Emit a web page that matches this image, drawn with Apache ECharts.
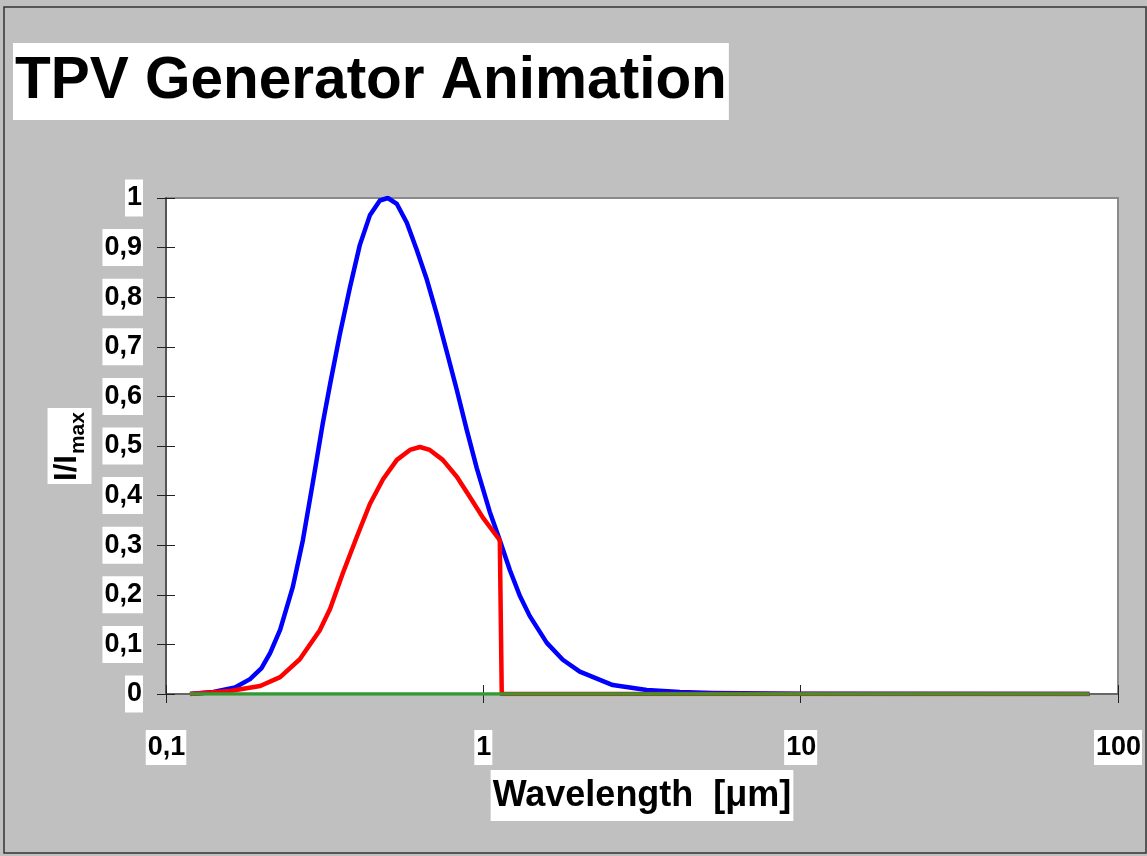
<!DOCTYPE html>
<html>
<head>
<meta charset="utf-8">
<script src="https://cdn.jsdelivr.net/npm/echarts@6/dist/echarts.min.js"></script>
<style>
  html, body { margin: 0; padding: 0; background: #c0c0c0; }
  #chart { width: 1147px; height: 856px; }
</style>
</head>
<body>
<div id="chart"></div>
<script>
// values (wavelength in µm, I/Imax)
const blueWl = [0.119, 0.141, 0.165, 0.184, 0.2, 0.213, 0.229, 0.251, 0.27, 0.29, 0.312, 0.329, 0.353, 0.38, 0.408, 0.439, 0.472, 0.5, 0.534, 0.574, 0.617, 0.664, 0.714, 0.767, 0.825, 0.887, 0.954, 1.048, 1.127, 1.212, 1.303, 1.401, 1.585, 1.78, 2.013, 2.558, 3.273, 4.16, 5.28, 10, 81.3]
const blueVal = [0, 0.004, 0.013, 0.03, 0.052, 0.083, 0.13, 0.216, 0.31, 0.425, 0.546, 0.625, 0.725, 0.82, 0.905, 0.965, 0.995, 1.0, 0.988, 0.95, 0.895, 0.835, 0.765, 0.69, 0.613, 0.532, 0.455, 0.367, 0.31, 0.25, 0.198, 0.157, 0.103, 0.069, 0.045, 0.018, 0.008, 0.004, 0.002, 0.0005, 0]

const redWl = [0.119, 0.159, 0.198, 0.229, 0.264, 0.305, 0.329, 0.361, 0.4, 0.439, 0.483, 0.534, 0.587, 0.631, 0.678, 0.745, 0.825, 0.907, 0.998, 1.127, 1.143, 81.3]
const redVal = [0, 0.006, 0.016, 0.034, 0.07, 0.128, 0.172, 0.244, 0.318, 0.383, 0.433, 0.472, 0.492, 0.498, 0.492, 0.472, 0.438, 0.397, 0.355, 0.31, 0, 0]

const greenWl = [0.119, 81.3]
const greenVal = [0, 0]

const FONT = '"Liberation Sans", Arial, sans-serif'
const comma = v => String(Number(Number(v).toPrecision(6))).replace('.', ',')
const pairs = (xs, ys) => xs.map((x, i) => [x, ys[i]])

const chart = echarts.init(document.getElementById('chart'))

const labelBox = {
  color: '#000',
  fontFamily: FONT,
  fontWeight: 'bold',
  fontSize: 27,
  lineHeight: 29,
  backgroundColor: '#fff',
  padding: [3, 1, 3, 2],
}

const option = {
  backgroundColor: '#c0c0c0',
  animation: false,
  title: {
    text: 'TPV Generator Animation',
    left: 13,
    top: 43,
    padding: [8, 2, 8, 2],
    backgroundColor: '#fff',
    textStyle: {
      color: '#000',
      fontFamily: FONT,
      fontWeight: 'bold',
      fontSize: 58.5,
      lineHeight: 61,
    },
  },
  graphic: [{
    type: 'rect',
    shape: { x: 4, y: 7, width: 1142, height: 846 },
    style: { fill: 'none', stroke: '#333', lineWidth: 1.5 },
    silent: true,
  }],
  grid: {
    left: 166,
    right: 29,
    top: 198,
    bottom: 162,
    show: true,
    backgroundColor: '#fff',
    borderColor: '#8a8a8a',
    borderWidth: 2,
  },
  xAxis: [
    {
      type: 'log',
      logBase: 10,
      min: 0.1,
      max: 100,
      name: 'Wavelength  [μm]',
      nameLocation: 'middle',
      nameGap: 71,
      nameTextStyle: {
        color: '#000',
        fontFamily: FONT,
        fontWeight: 'bold',
        fontSize: 36,
        lineHeight: 42,
        backgroundColor: '#fff',
        padding: [5, 2, 4, 2],
      },
      axisLine: { lineStyle: { color: '#666', width: 2 } },
      axisTick: { length: 9, lineStyle: { color: '#222', width: 1 } },
      axisLabel: Object.assign({ margin: 36, formatter: comma }, labelBox),
      splitLine: { show: false },
      minorTick: { show: false },
    },
    {
      type: 'log',
      logBase: 10,
      min: 0.1,
      max: 100,
      position: 'bottom',
      axisLine: { show: false },
      axisTick: { inside: true, length: 9, lineStyle: { color: '#222', width: 1 } },
      axisLabel: { show: false },
      splitLine: { show: false },
    },
  ],
  yAxis: [
    {
      type: 'value',
      min: 0,
      max: 1,
      interval: 0.1,
      name: '{a|I/I}{b|max}',
      nameLocation: 'middle',
      nameRotate: 90,
      nameGap: 68,
      nameTextStyle: {
        backgroundColor: '#fff',
        padding: [4, 4, 3, 3],
        rich: {
          a: { color: '#000', fontFamily: FONT, fontWeight: 'bold', fontSize: 31, lineHeight: 37, verticalAlign: 'top' },
          b: { color: '#000', fontFamily: FONT, fontWeight: 'bold', fontSize: 21, lineHeight: 21, verticalAlign: 'top', padding: [16, 0, 0, 1] },
        },
      },
      axisLine: { show: true, lineStyle: { color: '#555', width: 2 } },
      axisTick: { show: true, length: 9, lineStyle: { color: '#222', width: 1 } },
      axisLabel: Object.assign({ margin: 23, formatter: comma }, labelBox, { padding: [7, 1, 1, 2] }),
      splitLine: { show: false },
    },
    {
      type: 'value',
      min: 0,
      max: 1,
      interval: 0.1,
      position: 'left',
      axisLine: { show: false },
      axisTick: { show: true, inside: true, length: 9, lineStyle: { color: '#222', width: 1 } },
      axisLabel: { show: false },
      splitLine: { show: false },
    },
  ],
  series: [
    {
      name: 'blue',
      type: 'line',
      data: pairs(blueWl, blueVal),
      showSymbol: false,
      lineStyle: { color: '#0000ff', width: 4.5, join: 'round' },
      z: 3,
    },
    {
      name: 'red',
      type: 'line',
      data: pairs(redWl, redVal),
      showSymbol: false,
      lineStyle: { color: '#ff0000', width: 4.5, join: 'round' },
      z: 4,
    },
    {
      name: 'green',
      type: 'line',
      data: pairs(greenWl, greenVal),
      showSymbol: false,
      lineStyle: { color: '#339933', width: 3.5 },
      z: 5,
    },
  ],
}

chart.setOption(option)
</script>
</body>
</html>
